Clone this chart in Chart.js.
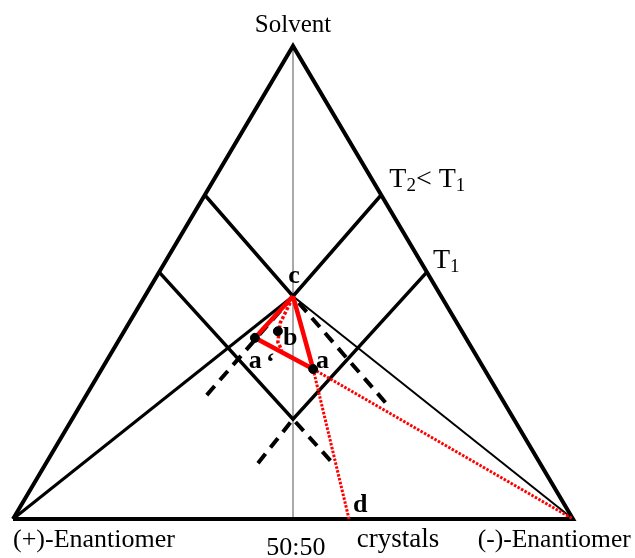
<!DOCTYPE html>
<html>
<head>
<meta charset="utf-8">
<title>Ternary phase diagram</title>
<script src="https://cdn.jsdelivr.net/npm/chart.js"></script>
<style>
  html, body { margin: 0; padding: 0; background: #fff; }
  #wrap { width: 635px; height: 558px; }
</style>
</head>
<body>
<div id="wrap"><canvas id="phaseChart" width="635" height="558"></canvas></div>
<script>
// compositions in %: x runs along the base ((+) = 0, (-) = 100), y = solvent
var triangleX = [0, 50, 100, 0];
var triangleY = [0, 100, 0, 0];
var racemicX = [50, 50];
var racemicY = [0, 100];

// isotherms (stable part)
var isoT2X = [34.25, 50, 65.75];
var isoT2Y = [68.5, 47.1, 68.5];
var isoT1X = [26.1, 50, 73.9];
var isoT1Y = [52.2, 21.1, 52.2];

// metastable continuations (dashed)
var metaT2X = [34.6, 50, 66.6];
var metaT2Y = [26.2, 47.1, 24.5];
var metaT1X = [43.75, 50, 57.1];
var metaT1Y = [11.8, 21.1, 11.8];

// tie lines from the pure enantiomers to eutectic c
var tieLeftX = [0, 50];
var tieLeftY = [0, 47.1];
var tieRightX = [50, 100];
var tieRightY = [47.1, 0];

// process path c -> a' -> a -> c
var pathX = [50, 43.2, 53.6, 50];
var pathY = [47.1, 38.3, 31.7, 47.1];
var pathDotX = [49.5, 47.7, 47.3, 48.0];
var pathDotY = [45.7, 41.4, 37.4, 35.7];
var toCornerX = [53.6, 100];
var toCornerY = [31.7, 0];
var toCrystalX = [53.6, 60];
var toCrystalY = [31.7, 0];

// marked compositions a, a', b
var markX = [53.6, 43.2, 47.3];
var markY = [31.7, 38.3, 39.7];

// text labels (anchor in composition units)
var labelText = ['Solvent', '(+)-Enantiomer', '50:50', 'crystals', '(-)-Enantiomer'];
var labelX = [50, 0, 50.5, 61.4, 83];
var labelY = [103, -5.9, -7.6, -5.9, -5.9];
var labelAlign = ['center', 'left', 'center', 'left', 'left'];
var labelSize = [25, 26, 26, 27, 25.5];

var pointText = ['c', 'b', 'a', 'a', '\u2018', 'd'];
var pointTextX = [50.2, 48.2, 54.1, 42.1, 45.2, 60.7];
var pointTextY = [49.9, 36.8, 31.9, 31.9, 31.6, 1.5];

function pts(xs, ys) {
    return xs.map((x, i) => ({ x: x, y: ys[i] }));
}

function lineSet(xs, ys, color, width, dash, order) {
    return {
        data: pts(xs, ys),
        showLine: true,
        borderColor: color,
        borderWidth: width,
        borderDash: dash || [],
        borderJoinStyle: 'miter',
        pointRadius: 0,
        fill: false,
        clip: false,
        order: order
    };
}

var textPlugin = {
    id: 'phaseLabels',
    afterDatasetsDraw(chart) {
        var ctx = chart.ctx;
        var sx = chart.scales.x, sy = chart.scales.y;
        ctx.save();
        ctx.fillStyle = '#000';
        ctx.textBaseline = 'alphabetic';

        labelText.forEach((t, i) => {
            ctx.textAlign = labelAlign[i];
            ctx.font = labelSize[i] + 'px "Liberation Serif"';
            ctx.fillText(t, sx.getPixelForValue(labelX[i]), sy.getPixelForValue(labelY[i]));
        });

        ctx.font = 'bold 26px "Liberation Serif"';
        pointText.forEach((t, i) => {
            ctx.textAlign = i === 0 ? 'center' : 'left';
            ctx.fillText(t, sx.getPixelForValue(pointTextX[i]), sy.getPixelForValue(pointTextY[i]));
        });

        // temperature labels with subscripts
        function tLabel(parts, x, y) {
            var px = sx.getPixelForValue(x), py = sy.getPixelForValue(y);
            ctx.textAlign = 'left';
            parts.forEach(p => {
                ctx.font = (p.sub ? '19px' : '28px') + ' "Liberation Serif"';
                ctx.fillText(p.t, px, py + (p.sub ? 4 : 0));
                px += ctx.measureText(p.t).width;
            });
        }
        tLabel([{ t: 'T' }, { t: '2', sub: true }, { t: '< T' }, { t: '1', sub: true }], 67.2, 70.2);
        tLabel([{ t: 'T' }, { t: '1', sub: true }], 75, 53.1);
        ctx.restore();
    }
};

var ctxPhase = document.getElementById('phaseChart').getContext('2d');
var phaseChart = new Chart(ctxPhase, {
    type: 'scatter',
    data: {
        datasets: [
            lineSet(racemicX, racemicY, '#8c8c8c', 1.5, null, 9),
            lineSet(triangleX, triangleY, '#000', 4, null, 5),
            lineSet(isoT2X, isoT2Y, '#000', 3.5, null, 5),
            lineSet(isoT1X, isoT1Y, '#000', 3.5, null, 5),
            lineSet(metaT2X, metaT2Y, '#000', 4, [12, 8], 5),
            lineSet(metaT1X, metaT1Y, '#000', 4, [12, 8], 5),
            lineSet(tieLeftX, tieLeftY, '#000', 3, null, 5),
            lineSet(tieRightX, tieRightY, '#000', 2, null, 5),
            lineSet(toCornerX, toCornerY, '#ff0000', 3, [2.5, 1.5], 3),
            lineSet(toCrystalX, toCrystalY, '#ff0000', 3, [2.5, 1.5], 3),
            lineSet(pathDotX, pathDotY, '#ff0000', 3.5, [3, 2], 2),
            lineSet(pathX, pathY, '#ff0000', 4.5, null, 2),
            {
                data: pts(markX, markY),
                showLine: false,
                pointRadius: 4.5,
                pointBackgroundColor: '#000',
                pointBorderColor: '#000',
                clip: false,
                order: 0
            }
        ]
    },
    options: {
        responsive: false,
        animation: false,
        layout: { padding: { left: 13, right: 62, top: 46, bottom: 39 } },
        plugins: { legend: { display: false }, tooltip: { enabled: false } },
        scales: {
            x: { type: 'linear', min: 0, max: 100, display: false },
            y: { type: 'linear', min: 0, max: 100, display: false }
        }
    },
    plugins: [textPlugin]
});
</script>
</body>
</html>
